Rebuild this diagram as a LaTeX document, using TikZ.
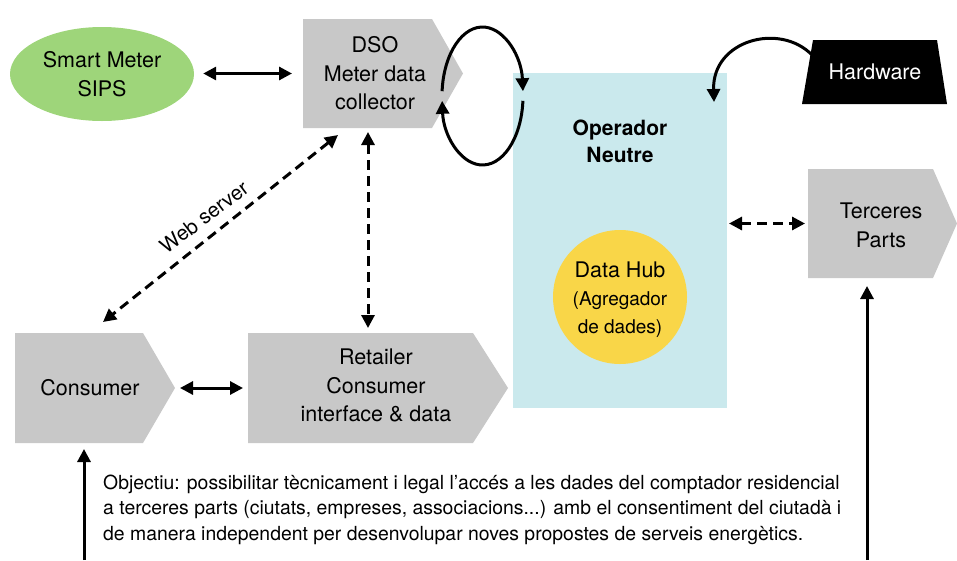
\documentclass[tikz,border=0pt]{standalone}
\usepackage{fontspec}
\setmainfont{TeX Gyre Heros}
\usetikzlibrary{arrows.meta,calc,shapes.geometric}
\definecolor{smgreen}{RGB}{158,213,122}
\definecolor{boxgray}{RGB}{200,200,200}
\definecolor{opblue}{RGB}{202,233,237}
\definecolor{hubyellow}{RGB}{249,214,72}
\begin{document}
\begin{tikzpicture}[x=1pt,y=-1pt,
  body/.style={rectangle, inner sep=0pt, outer sep=0pt},
  lbl/.style={align=center, font=\fontsize{21.5}{28.5}\selectfont, inner sep=0pt},
  objl/.style={anchor=base west, inner sep=0pt, font=\fontsize{19.4}{25.7}\selectfont},
  sarr/.style={line width=3pt, -{Triangle[length=13pt,width=13pt]}},
  sdbl/.style={line width=3pt, {Triangle[length=13pt,width=13pt]}-{Triangle[length=13pt,width=13pt]}},
  ddbl/.style={line width=3pt, dash pattern=on 10pt off 6pt, {Triangle[length=13pt,width=13pt]}-{Triangle[length=13pt,width=13pt]}},
  ]
\useasboundingbox (0,0) rectangle (957,560);

% Operador Neutre box
\node[body, fill=opblue, minimum width=214pt, minimum height=335pt] (op) at (620,240.5) {};
\node[lbl, font=\fontsize{21}{27}\selectfont\bfseries] (opt) at (620,141.5) {Operador\\Neutre};
\node[circle, fill=hubyellow, minimum size=134pt, inner sep=0pt] (hub) at (620,297) {};
\node[anchor=base, inner sep=0pt, font=\fontsize{21.5}{26}\selectfont] (hub1) at (620,277) {Data Hub};
\node[anchor=base, inner sep=0pt, font=\fontsize{19}{26}\selectfont] (hub2) at (620,305) {(Agregador};
\node[anchor=base, inner sep=0pt, font=\fontsize{19}{26}\selectfont] (hub3) at (620,333) {de dades)};

% Smart meter
\node[ellipse, fill=smgreen, minimum width=184pt, minimum height=94pt, inner sep=0pt] (sm) at (102,74) {};
\node[lbl] (smt) at (102,74) {Smart Meter\\SIPS};

% DSO
\node[body, minimum width=129pt, minimum height=109pt] (dso) at (367.5,73.5) {};
\fill[boxgray] (dso.north west) -- (dso.north east) -- ([xshift=31pt]dso.east) -- (dso.south east) -- (dso.south west) -- cycle;
\node[lbl] (dsot) at (375,73.5) {DSO\\Meter data\\collector};

% Consumer
\node[body, minimum width=128pt, minimum height=110pt] (con) at (79,388) {};
\fill[boxgray] (con.north west) -- (con.north east) -- ([xshift=32pt]con.east) -- (con.south east) -- (con.south west) -- cycle;
\node[lbl] (cont) at (90,388) {Consumer};

% Retailer
\node[body, minimum width=225pt, minimum height=110pt] (ret) at (360.5,388) {};
\fill[boxgray] (ret.north west) -- (ret.north east) -- ([xshift=35pt]ret.east) -- (ret.south east) -- (ret.south west) -- cycle;
\node[lbl] (rett) at (376,385.5) {Retailer\\Consumer\\interface \& data};

% Terceres Parts
\node[body, minimum width=125pt, minimum height=109pt] (ter) at (870.5,223.5) {};
\fill[boxgray] (ter.north west) -- (ter.north east) -- ([xshift=24pt]ter.east) -- (ter.south east) -- (ter.south west) -- cycle;
\node[lbl] (tert) at (881,225.5) {Terceres\\Parts};

% Hardware
\fill[black] (813,40) -- (937,40) -- (947,104) -- (802,104) -- cycle;
\node[lbl, text=white] (hw) at (875,72) {Hardware};

% Connectors
\draw[sdbl, shorten <=9pt, shorten >=11pt] (sm.east |- dso.west) -- (dso.west);
\draw[sdbl, shorten <=37pt, shorten >=5pt] (con.east) -- (ret.west);
\draw[ddbl, shorten <=4pt, shorten >=5pt] ([xshift=0.5pt]dso.south) -- ([xshift=0.5pt]dso.south |- ret.north);
\coordinate (ws1) at (338,135);
\coordinate (ws2) at (103,322);
\draw[ddbl] (ws1) -- (ws2);
\node[font=\fontsize{20.5}{24}\selectfont, rotate=37, inner sep=0pt] (wsl) at (204,217) {Web server};
\draw[ddbl, shorten <=2pt, shorten >=3pt] (op.east |- ter.west) -- (ter.west);

% Loop at DSO
\coordinate (lc) at (482.5,96);
\draw[line width=3pt, -{Triangle[length=13pt,width=13pt]}] (442.1,91.2) arc[start angle=184, end angle=356, x radius=40.5, y radius=69];
\draw[line width=3pt, -{Triangle[length=13pt,width=13pt]}] (522.9,100.8) arc[start angle=4, end angle=176, x radius=40.5, y radius=69];

% Hardware curve
\coordinate (hwl) at (812,55);
\coordinate (hwe) at (714,102);
\draw[sarr] (hwl) .. controls (780,22) and (712,40) .. (hwe);

% Bottom arrows
\coordinate (b1) at (84,560);
\coordinate (b2) at (867,560);
\draw[sarr, shorten >=6pt] (b1) -- (b1 |- con.south);
\draw[sarr, shorten >=8pt] (b2) -- (b2 |- ter.south);

% Objective text
\node[objl] (obj1) at (103,489) {Objectiu: possibilitar tècnicament i legal l’accés a les dades del comptador residencial};
\node[objl] (obj2) at (103,514.7) {a terceres parts (ciutats, empreses, associacions...) amb el consentiment del ciutadà i};
\node[objl] (obj3) at (103,540.4) {de manera independent per desenvolupar noves propostes de serveis energètics.};
\end{tikzpicture}
\end{document}
